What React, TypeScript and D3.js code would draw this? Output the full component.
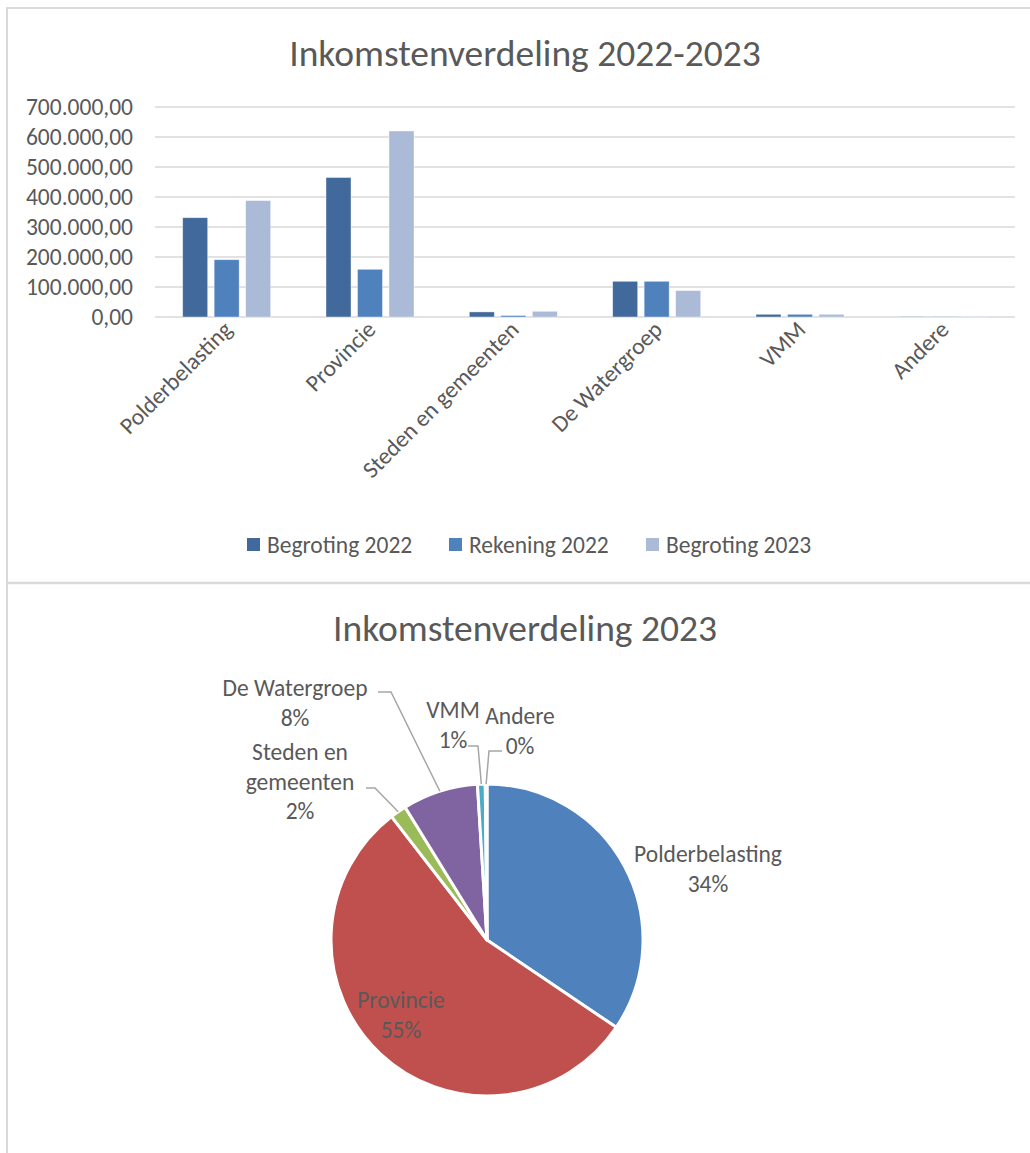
import React from "react";
import * as d3 from "d3";

const categories = ["Polderbelasting", "Provincie", "Steden en gemeenten", "De Watergroep", "VMM", "Andere"];
const seriesNames = ["Begroting 2022", "Rekening 2022", "Begroting 2023"];
const begroting2022 = [331000, 465000, 17000, 119000, 9000, 1500];
const rekening2022 = [191000, 159000, 5000, 119000, 9000, 1500];
const begroting2023 = [388000, 620000, 19000, 88000, 9000, 2000];
const yTicks = [0, 100000, 200000, 300000, 400000, 500000, 600000, 700000];
const pieLabelLines = [["Polderbelasting"], ["Provincie"], ["Steden en", "gemeenten"], ["De Watergroep"], ["VMM"], ["Andere"]];

const barColors = ["#41699B", "#4F81BD", "#AABAD7"];
const pieColors = ["#4F81BD", "#C0504D", "#9BBB59", "#8064A2", "#4BACC6", "#F79646"];
const FONT = "Carlito, Calibri, Lato, 'Open Sans', sans-serif";
const TXT = "#595959";
const GRID = "#D9D9D9";
const FS = 23.5;
const TFS = 37.5;

// label layout (offsets from pie centre), leader elbows
const pieLayout = [
  { tx: 221, ty: -86, leader: null },
  { tx: -86, ty: 60, leader: null },
  { tx: -187, ty: -188, leader: { ex: -112, ey: -152, ox: -121, oy: -152 } },
  { tx: -192, ty: -252, leader: { ex: -96, ey: -248, ox: -109, oy: -248 } },
  { tx: -34, ty: -230, leader: { ex: -9, ey: -194, ox: -19, oy: -194 } },
  { tx: 33, ty: -224, leader: { ex: 2, ey: -189, ox: 15, oy: -189 } },
];

function fmt(v: number) {
  const s = d3.format(",.2f")(v);
  return s.replace(/,/g, "#").replace(/\./g, ",").replace(/#/g, ".");
}

export default function App() {
  const W = 1030, H = 1153;
  const x0 = d3.scaleBand<string>().domain(categories).range([155, 1015]).paddingInner(0.386).paddingOuter(0.193);
  const x1 = d3.scaleBand<string>().domain(seriesNames).range([0, x0.bandwidth()]).paddingInner(0.206);
  const y = d3.scaleLinear().domain([0, 700000]).range([317, 107]);
  const series = [begroting2022, rekening2022, begroting2023];

  const legendX = [247, 449, 646];

  const cx = 487, cy = 940, r = 156;
  const pie = d3.pie<number>().sort(null).value((d) => d)(begroting2023);
  const total = d3.sum(begroting2023);
  const arc = d3.arc<d3.PieArcDatum<number>>().innerRadius(0).outerRadius(r);

  return (
    <svg width={W} height={H} style={{ position: "absolute", left: 0, top: 0, background: "#fff" }} fontFamily={FONT}>
      <rect x={0} y={0} width={W} height={H} fill="#fff" />
      {/* frames */}
      <line x1={7} x2={1030} y1={8} y2={8} stroke={GRID} strokeWidth={2} />
      <line x1={7} x2={7} y1={7} y2={1153} stroke={GRID} strokeWidth={2} />
      <line x1={7} x2={1030} y1={583} y2={583} stroke={GRID} strokeWidth={2.5} />

      {/* bar chart */}
      <text x={525} y={66} textAnchor="middle" fontSize={TFS} fill={TXT}>Inkomstenverdeling 2022-2023</text>
      {yTicks.map((t) => (
        <g key={t}>
          <line x1={155} x2={1015} y1={y(t)} y2={y(t)} stroke={GRID} strokeWidth={1.5} />
          <text x={133} y={y(t)} dy="0.35em" textAnchor="end" fontSize={FS} fill={TXT}>{fmt(t)}</text>
        </g>
      ))}
      {categories.map((c, ci) => (
        <g key={c}>
          {series.map((s, si) => (
            <rect key={si} x={(x0(c) as number) + (x1(seriesNames[si]) as number)} y={y(s[ci])}
              width={x1.bandwidth()} height={y(0) - y(s[ci])} fill={barColors[si]} stroke="#fff" strokeOpacity={0.5} strokeWidth={0.8} />
          ))}
          <text transform={`translate(${(x0(c) as number) + x0.bandwidth() / 2 + 7},${331}) rotate(-45)`}
            textAnchor="end" fontSize={FS} fill={TXT}>{c}</text>
        </g>
      ))}
      {seriesNames.map((n, i) => (
        <g key={n}>
          <rect x={legendX[i]} y={538} width={13} height={13} fill={barColors[i]} />
          <text x={legendX[i] + 20} y={545} dy="0.35em" fontSize={FS} fill={TXT}>{n}</text>
        </g>
      ))}

      {/* pie chart */}
      <text x={525} y={641} textAnchor="middle" fontSize={TFS} fill={TXT}>Inkomstenverdeling 2023</text>
      <g transform={`translate(${cx},${cy})`}>
        {pie.map((p, i) => (
          <path key={i} d={arc(p) as string} fill={pieColors[i]} stroke="#fff" strokeWidth={3} strokeLinejoin="round" />
        ))}
        {pie.map((p, i) => {
          const L = pieLayout[i];
          const mid = (p.startAngle + p.endAngle) / 2;
          const px = r * Math.sin(mid), py = -r * Math.cos(mid);
          const lines = [...pieLabelLines[i], `${Math.round((p.value / total) * 100)}%`];
          return (
            <g key={`l${i}`}>
              {L.leader && (
                <polyline points={`${px},${py} ${L.leader.ex},${L.leader.ey} ${L.leader.ox},${L.leader.oy}`}
                  fill="none" stroke="#A6A6A6" strokeWidth={1.5} />
              )}
              {lines.map((ln, li) => (
                <text key={li} x={L.tx} y={L.ty + li * 29.5} dy="0.35em" textAnchor="middle" fontSize={FS} fill={TXT}>{ln}</text>
              ))}
            </g>
          );
        })}
      </g>
    </svg>
  );
}
